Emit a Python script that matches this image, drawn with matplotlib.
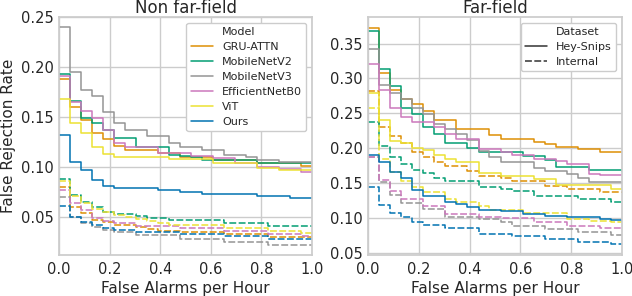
import numpy as np
import pandas as pd
import matplotlib
matplotlib.use("Agg")
import matplotlib.pyplot as plt
import seaborn as sns
from matplotlib.lines import Line2D

# false alarms per hour, one step per false alarm (23 h of negatives)
fa_per_hour = [0.0, 0.043, 0.087, 0.13, 0.174, 0.217, 0.261, 0.304, 0.348, 0.391, 0.435, 0.478,
               0.522, 0.565, 0.609, 0.652, 0.696, 0.739, 0.783, 0.826, 0.87, 0.913, 0.957, 1.0]

models = ['GRU-ATTN', 'MobileNetV2', 'MobileNetV3', 'EfficientNetB0', 'ViT', 'Ours']
colors = ['#de8f05', '#029e73', '#949494', '#cc78bc', '#ece133', '#0173b2']

# Non far-field, Hey-Snips
near_snips = {
    'GRU-ATTN': [0.188, 0.160, 0.147, 0.134, 0.128, 0.121, 0.117, 0.117, 0.117, 0.114, 0.114, 0.110,
                 0.110, 0.110, 0.107, 0.107, 0.107, 0.107, 0.104, 0.104, 0.104, 0.104, 0.101, 0.101],
    'MobileNetV2': [0.193, 0.166, 0.149, 0.144, 0.137, 0.129, 0.129, 0.120, 0.120, 0.120, 0.112, 0.111,
                    0.110, 0.107, 0.107, 0.107, 0.107, 0.107, 0.104, 0.104, 0.104, 0.104, 0.104, 0.104],
    'MobileNetV3': [0.240, 0.195, 0.177, 0.171, 0.155, 0.144, 0.137, 0.137, 0.131, 0.131, 0.124, 0.120,
                    0.120, 0.117, 0.117, 0.112, 0.112, 0.110, 0.107, 0.107, 0.105, 0.105, 0.105, 0.105],
    'EfficientNetB0': [0.191, 0.165, 0.156, 0.149, 0.137, 0.124, 0.120, 0.120, 0.120, 0.114, 0.114, 0.114,
                       0.111, 0.111, 0.109, 0.109, 0.104, 0.104, 0.100, 0.100, 0.098, 0.098, 0.095, 0.095],
    'ViT': [0.168, 0.144, 0.134, 0.120, 0.113, 0.110, 0.110, 0.110, 0.110, 0.110, 0.108, 0.108,
            0.108, 0.108, 0.104, 0.104, 0.104, 0.104, 0.099, 0.099, 0.097, 0.097, 0.097, 0.096],
    'Ours': [0.132, 0.105, 0.097, 0.087, 0.081, 0.079, 0.079, 0.079, 0.079, 0.077, 0.077, 0.075,
             0.075, 0.073, 0.073, 0.073, 0.073, 0.073, 0.071, 0.071, 0.071, 0.069, 0.069, 0.069],
}

# Non far-field, Internal
near_internal = {
    'GRU-ATTN': [0.080, 0.060, 0.054, 0.047, 0.045, 0.042, 0.042, 0.040, 0.038, 0.036, 0.036, 0.035,
                 0.035, 0.035, 0.035, 0.033, 0.033, 0.033, 0.033, 0.030, 0.030, 0.030, 0.030, 0.030],
    'MobileNetV2': [0.088, 0.072, 0.065, 0.060, 0.055, 0.053, 0.053, 0.051, 0.049, 0.049, 0.047, 0.047,
                    0.047, 0.047, 0.047, 0.044, 0.044, 0.044, 0.044, 0.041, 0.041, 0.041, 0.041, 0.040],
    'MobileNetV3': [0.070, 0.050, 0.044, 0.040, 0.037, 0.035, 0.035, 0.032, 0.032, 0.032, 0.032, 0.028,
                    0.028, 0.028, 0.028, 0.025, 0.025, 0.025, 0.025, 0.022, 0.022, 0.022, 0.022, 0.022],
    'EfficientNetB0': [0.077, 0.064, 0.057, 0.049, 0.046, 0.044, 0.044, 0.041, 0.041, 0.041, 0.041, 0.039,
                       0.039, 0.039, 0.039, 0.036, 0.036, 0.036, 0.036, 0.033, 0.033, 0.033, 0.031, 0.031],
    'ViT': [0.086, 0.071, 0.064, 0.058, 0.055, 0.052, 0.050, 0.048, 0.046, 0.044, 0.042, 0.042,
            0.042, 0.042, 0.042, 0.039, 0.039, 0.039, 0.039, 0.036, 0.036, 0.036, 0.034, 0.034],
    'Ours': [0.061, 0.050, 0.045, 0.042, 0.039, 0.037, 0.037, 0.035, 0.035, 0.035, 0.035, 0.033,
             0.033, 0.033, 0.033, 0.031, 0.031, 0.031, 0.031, 0.028, 0.028, 0.028, 0.028, 0.028],
}

# Far-field, Hey-Snips
far_snips = {
    'GRU-ATTN': [0.372, 0.308, 0.284, 0.271, 0.263, 0.253, 0.241, 0.241, 0.227, 0.227, 0.227, 0.219,
                 0.213, 0.213, 0.213, 0.209, 0.206, 0.202, 0.202, 0.199, 0.199, 0.195, 0.195, 0.195],
    'MobileNetV2': [0.368, 0.314, 0.289, 0.257, 0.249, 0.230, 0.221, 0.208, 0.208, 0.200, 0.195, 0.195,
                    0.195, 0.195, 0.189, 0.189, 0.183, 0.173, 0.173, 0.173, 0.169, 0.169, 0.169, 0.168],
    'MobileNetV3': [0.342, 0.290, 0.279, 0.270, 0.257, 0.249, 0.234, 0.227, 0.220, 0.212, 0.196, 0.188,
                    0.180, 0.180, 0.180, 0.172, 0.168, 0.168, 0.163, 0.158, 0.152, 0.152, 0.151, 0.150],
    'EfficientNetB0': [0.320, 0.283, 0.257, 0.245, 0.237, 0.237, 0.230, 0.220, 0.213, 0.213, 0.199, 0.199,
                       0.195, 0.190, 0.190, 0.185, 0.185, 0.181, 0.178, 0.178, 0.163, 0.162, 0.162, 0.161],
    'ViT': [0.279, 0.241, 0.210, 0.208, 0.200, 0.198, 0.190, 0.184, 0.180, 0.180, 0.165, 0.164,
            0.160, 0.160, 0.160, 0.156, 0.156, 0.148, 0.148, 0.148, 0.148, 0.148, 0.142, 0.141],
    'Ours': [0.190, 0.180, 0.166, 0.157, 0.140, 0.131, 0.131, 0.123, 0.120, 0.116, 0.111, 0.111,
             0.110, 0.110, 0.106, 0.106, 0.103, 0.103, 0.101, 0.101, 0.101, 0.098, 0.097, 0.096],
}

# Far-field, Internal
far_internal = {
    'GRU-ATTN': [0.282, 0.230, 0.218, 0.207, 0.194, 0.188, 0.180, 0.175, 0.175, 0.168, 0.160, 0.160,
                 0.157, 0.153, 0.153, 0.153, 0.146, 0.146, 0.141, 0.141, 0.141, 0.137, 0.137, 0.136],
    'MobileNetV2': [0.237, 0.203, 0.187, 0.178, 0.169, 0.164, 0.158, 0.153, 0.153, 0.153, 0.144, 0.144,
                    0.141, 0.138, 0.138, 0.132, 0.132, 0.132, 0.132, 0.127, 0.127, 0.127, 0.123, 0.122],
    'MobileNetV3': [0.187, 0.152, 0.133, 0.122, 0.122, 0.113, 0.113, 0.102, 0.102, 0.102, 0.098, 0.098,
                    0.095, 0.089, 0.089, 0.089, 0.084, 0.084, 0.084, 0.080, 0.080, 0.080, 0.076, 0.075],
    'EfficientNetB0': [0.188, 0.155, 0.139, 0.127, 0.127, 0.117, 0.117, 0.106, 0.106, 0.106, 0.102, 0.102,
                       0.100, 0.100, 0.100, 0.094, 0.094, 0.094, 0.089, 0.089, 0.089, 0.085, 0.085, 0.084],
    'ViT': [0.257, 0.185, 0.166, 0.153, 0.144, 0.137, 0.137, 0.127, 0.123, 0.123, 0.117, 0.111,
            0.111, 0.111, 0.107, 0.107, 0.107, 0.107, 0.099, 0.099, 0.096, 0.096, 0.095, 0.094],
    'Ours': [0.145, 0.118, 0.107, 0.101, 0.095, 0.090, 0.090, 0.085, 0.085, 0.085, 0.077, 0.077,
             0.077, 0.074, 0.074, 0.074, 0.070, 0.070, 0.070, 0.066, 0.066, 0.066, 0.063, 0.063],
}

sns.set_theme(style='whitegrid')
plt.rcParams['font.family'] = ['DejaVu Sans']

fig = plt.figure(figsize=(6.32, 2.96), dpi=100)
ax1 = fig.add_axes([0.0934, 0.1385, 0.4003, 0.8041])
ax2 = fig.add_axes([0.5823, 0.1385, 0.4019, 0.8041])

lw = 1.1
dash = (4.5, 1.6)
for ax, snips, internal in [(ax1, near_snips, near_internal), (ax2, far_snips, far_internal)]:
    for m, c in zip(models, colors):
        ax.plot(fa_per_hour, snips[m], drawstyle='steps-post', color=c, lw=lw)
        ax.plot(fa_per_hour, internal[m], drawstyle='steps-post', color=c, lw=lw, dashes=dash)
    ax.set_xlim(0, 1)
    ax.set_xticks([0.0, 0.2, 0.4, 0.6, 0.8, 1.0])
    ax.tick_params(axis='both', labelsize=10.5, length=0)
    ax.tick_params(axis='x', pad=5)
    ax.tick_params(axis='y', pad=4)
    ax.set_xlabel('False Alarms per Hour', fontsize=11, labelpad=3)

ax1.set_ylim(0.012, 0.25)
ax1.set_yticks([0.05, 0.10, 0.15, 0.20, 0.25])
ax1.set_ylabel('False Rejection Rate', fontsize=11, labelpad=3)
ax1.set_title('Non far-field', fontsize=12, pad=3)

ax2.set_ylim(0.047, 0.388)
ax2.set_yticks([0.05, 0.10, 0.15, 0.20, 0.25, 0.30, 0.35])
ax2.set_title('Far-field', fontsize=12, pad=3)

blank = Line2D([], [], color='none')
h1 = [blank] + [Line2D([], [], color=c, lw=lw) for c in colors]
ax1.legend(h1, ['Model'] + models, loc='upper right', fontsize=8, handlelength=2.0,
           labelspacing=0.45, borderpad=0.4, framealpha=1)

h2 = [blank, Line2D([], [], color='#333333', lw=lw),
      Line2D([], [], color='#333333', lw=lw, dashes=dash)]
ax2.legend(h2, ['Dataset', 'Hey-Snips', 'Internal'], loc='upper right', fontsize=8,
           handlelength=2.0, labelspacing=0.45, borderpad=0.4, framealpha=1)

fig.savefig('out.png', dpi=100)
